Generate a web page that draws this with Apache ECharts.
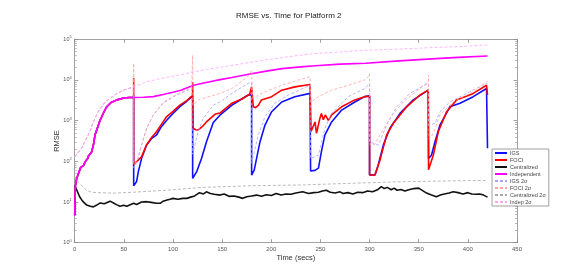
<!DOCTYPE html>
<html>
<head>
<meta charset="utf-8">
<script src="https://cdn.jsdelivr.net/npm/echarts@6/dist/echarts.min.js"></script>
<style>html,body{margin:0;padding:0;background:#fff;}#c{width:572px;height:272px;}</style>
</head>
<body>
<div id="c"></div>
<script>
// ---- data (time in secs, RMSE) ----
const xTicks = [0, 50, 100, 150, 200, 250, 300, 350, 400, 450];
const seriesNames = ['IGS', 'FOCI', 'Centralized', 'Independent', 'IGS 2\u03c3', 'FOCI 2\u03c3', 'Centralized 2\u03c3', 'Indep 2\u03c3'];

// first 60 s: IGS, FOCI and Independent coincide
const sharedEarly = [[0,4.7],[0.7,25],[2,38],[4,52],[6,70],[9,80],[11,100],[13,115],[14,135],[16,140],[17,165],[19,250],[20.7,450],[23,650],[25.8,1020],[29,1500],[32.6,2200],[37,2800],[43,3240],[50,3600],[55,3700],[60,3700]];
const indepLate = [[70,3750],[80,3900],[90,4400],[100,5000],[108,5600],[115,6500],[121,7400],[135,8800],[148,10200],[160,11500],[177,13800],[195,16500],[211,19000],[230,21000],[245,22400],[270,24500],[296,25700],[330,29500],[359,32500],[361,33500],[390,36000],[420,38900]];
const igsLate = [[60,4200],[60,25],[63,32],[64.7,55],[68,117],[73,250],[78,360],[83.4,450],[88,700],[93.6,1020],[100,1500],[107,2200],[114,3000],[120,3980],[120,38],[121,38],[124,55],[129,117],[134,300],[141,900],[148,1380],[160,2400],[170,3400],[176.6,4270],[180,4370],[180,46],[182.7,62],[185,117],[188.5,300],[193.6,780],[200.4,1660],[210.6,2880],[224,3890],[239.4,4680],[240,4680],[240,58],[244.5,60],[248,68],[251,174],[254.6,447],[261.4,930],[271.6,1820],[285,2880],[295,3890],[300,4070],[300,46],[305.5,46],[308.8,81],[314,250],[320.7,650],[331,1510],[344.5,3240],[359.7,5620],[360,5620],[360,117],[363,141],[366.5,300],[371.6,780],[381.7,2190],[392,2690],[405.5,3890],[419,6170],[420,6170],[420,209]];
const fociLate = [[60,11000],[60,85],[63,98],[68,129],[73,250],[78,380],[83.4,540],[88,800],[93.6,1260],[100,1700],[107,2400],[114,3100],[120,4170],[120,8900],[120.5,650],[123,600],[125.8,590],[130,720],[134,930],[143,1450],[148,1550],[160,2690],[170,3400],[178,4470],[180,4470],[180,6760],[181.7,2190],[184,2090],[187,2400],[190,3240],[200.4,3890],[210.6,5620],[224,6760],[239.4,7760],[240,8300],[240.5,540],[242,590],[244.5,930],[246,490],[249.5,1150],[251,1510],[253,1050],[255,1380],[258,1020],[261.4,1380],[271.6,2190],[285,3240],[295,3890],[300,3980],[300,46],[305.5,46],[310.6,107],[317.4,447],[324,850],[337.7,2190],[351.3,4270],[359.7,5620],[360,5620],[360,62],[364.8,141],[370,540],[378.4,1660],[388.6,3240],[405.5,4680],[419,7410],[420,7410],[420,4270]];
const centralized = [[0,25.1],[2,20],[5,13.5],[8,10.5],[12,8.5],[16,7.9],[19,7.6],[22,8.3],[26,9.5],[30,9.1],[36,10.5],[40,9.3],[43,8.5],[46,7.9],[50,8.3],[53,7.9],[57,8.7],[60,9.3],[63,8.7],[68,10],[73,10.2],[78,9.8],[83,9.3],[87,9.3],[90,10.5],[94,11.2],[97,11.7],[100,12.3],[105,11.7],[110,12.3],[114,12.3],[118,13.2],[122,14.1],[127,17],[131,15.8],[134,17.8],[138,16.2],[142,15.5],[148,14.8],[152,15.8],[157,13.8],[162,14.1],[167,13.2],[171,12.3],[175,13.5],[180,14.1],[185,14.8],[190,13.8],[195,15.1],[200,14.5],[205,16.2],[210,14.8],[215,15.8],[220,15.5],[225,16.6],[232,17.8],[238,16.2],[243,17],[248,17.4],[252,18.6],[256,19.5],[260,17.4],[265,16.6],[270,17.8],[273,16.2],[278,17],[283,15.8],[288,17.4],[293,17],[298,18.6],[303,17.8],[308,20],[312,24],[315,21.4],[318,22.9],[322,20],[325,21.9],[328,19.5],[332,20.4],[336,18.6],[340,20],[345,21.4],[350,21.9],[354,19.1],[358,16.6],[363,14.8],[368,13.5],[372,14.8],[376,15.8],[381,16.6],[385,17.8],[390,17],[395,15.8],[400,17],[404,15.8],[408,15.5],[412,15.8],[416,14.8],[420,13.2]];

// 2-sigma bounds; first 60 s IGS/FOCI/Indep coincide
const sharedEarly2s = [[0,130],[3,160],[7,210],[11,330],[15.6,540],[18,800],[20.7,1150],[24,1700],[27.5,2190],[31,2900],[36,3550],[42,4500],[49.5,5620],[60,6760]];
const indep2sLate = [[73.2,9100],[85,10500],[97,12000],[110,13800],[120.7,15800],[135,18200],[147.8,20400],[170,25000],[193.6,30900],[220,38000],[244.5,44700],[270,49000],[295,53700],[320,56000],[358,61700],[390,66000],[420,72400]];
const igs2sLate = [[60,70],[63,90],[68,250],[73.2,650],[80,1380],[90,2690],[103.8,4270],[119,6170],[120,6300],[120,150],[123,300],[125.7,540],[130.8,1150],[141,2400],[148,2900],[160,4700],[176.6,8300],[180,8700],[180,90],[181.7,98],[186.8,450],[193.6,1260],[203.8,2690],[217.3,4270],[239.4,7410],[240,7500],[240,117],[248,141],[254.6,650],[261.4,1510],[278.4,3890],[295,6170],[300,8000],[300,300],[308.8,250],[317.4,780],[327.6,2190],[341,4680],[359.7,8300],[360,8300],[360,780],[366.5,850],[371.6,1660],[381.7,2880],[398.8,4680],[419,8300],[420,8300]];
const foci2sLate = [[60,25700],[60,90],[63,95],[68,250],[73.2,650],[80,1380],[90,2800],[103.8,4470],[119,6500],[120,6800],[120,40700],[120.5,2400],[125.6,3240],[147.8,4680],[160,6170],[178,13200],[180,13800],[180,17400],[181,3550],[193.6,5130],[210.6,7410],[227.6,10000],[239.4,12000],[240,12000],[240,13200],[240.5,2880],[248,3890],[261.4,5620],[278.4,7410],[295,10000],[298.7,12000],[300,12000],[300,14500],[300.5,250],[305,260],[310.6,450],[320.7,1150],[334.3,2880],[359.7,9100],[360,9100],[360,13200],[360.5,350],[365,500],[371.6,1380],[385,2880],[405.5,5130],[419,9100],[420,9100]];
const centralized2s = [[0,42],[4,30],[8,24],[12,19.5],[17,17.4],[22,17],[40,16.6],[60,17.4],[100,20],[130,22.9],[180,25.1],[232,26.3],[280,28.8],[334,31.6],[380,33],[420,34]];

const igs = sharedEarly.concat(igsLate);
const foci = sharedEarly.concat(fociLate);
const independent = sharedEarly.concat(indepLate);
const igs2s = sharedEarly2s.concat(igs2sLate);
const foci2s = sharedEarly2s.concat(foci2sLate);
const indep2s = sharedEarly2s.concat(indep2sLate);

const seriesData = [igs, foci, centralized, independent, igs2s, foci2s, centralized2s, indep2s];
const colors = ['#1010ff', '#ff0000', '#111111', '#ff00ff', '#a3a3ff', '#ffa3a3', '#a8a8a8', '#ffa3ff'];
const widths = [1.6, 1.6, 1.6, 1.6, 0.8, 0.8, 0.8, 0.8];
const dashed = [false, false, false, false, true, true, true, true];

const FONT = 'Liberation Sans, Arial, sans-serif';
const AX = '#8a8a8a';
const LBL = '#555';

const chart = echarts.init(document.getElementById('c'), null, {renderer: 'canvas'});
const gridPos = {left: 74.7, right: 55, top: 39.3, bottom: 29.3};

const xBase = {
  type: 'value', min: 0, max: 450, interval: 50,
  splitLine: {show: false},
  axisLine: {show: true, onZero: false, lineStyle: {color: AX, width: 0.8}},
  axisTick: {show: true, inside: true, length: 3.5, lineStyle: {color: AX, width: 0.8}},
};
const yBase = {
  type: 'log', logBase: 10, min: 1, max: 100000,
  splitLine: {show: false},
  axisLine: {show: true, onZero: false, lineStyle: {color: AX, width: 0.8}},
  axisTick: {show: true, inside: true, length: 3.5, lineStyle: {color: AX, width: 0.8}},
  minorTick: {show: true, splitNumber: 9, length: 2, lineStyle: {color: AX, width: 0.6}},
};

chart.setOption({
  animation: false,
  backgroundColor: '#ffffff',
  title: {
    text: 'RMSE vs. Time for Platform 2',
    left: 231, top: 7,
    textStyle: {fontFamily: FONT, fontSize: 8, fontWeight: 'normal', color: '#222'}
  },
  grid: gridPos,
  legend: {
    orient: 'vertical', left: 492, top: 149,
    data: seriesNames,
    itemWidth: 12, itemHeight: 5, itemGap: 1,
    padding: [1, 3, 1, 2],
    borderColor: '#888', borderWidth: 0.8, backgroundColor: '#fff',
    itemStyle: {opacity: 0},
    textStyle: {fontFamily: FONT, fontSize: 5.5, color: '#444', padding: [0, 0, 0, -2]}
  },
  xAxis: [
    Object.assign({}, xBase, {
      position: 'bottom',
      name: 'Time (secs)', nameLocation: 'middle', nameGap: 11, nameMoveOverlap: false,
      nameTextStyle: {fontFamily: FONT, fontSize: 7.5, color: '#333'},
      axisLabel: {fontFamily: FONT, fontSize: 6, color: LBL, margin: 4,
        formatter: v => xTicks.indexOf(v) >= 0 ? String(v) : ''}
    }),
    Object.assign({}, xBase, {position: 'top', axisLabel: {show: false}})
  ],
  yAxis: [
    Object.assign({}, yBase, {
      position: 'left',
      name: 'RMSE', nameLocation: 'middle', nameGap: 14, nameRotate: 90, nameMoveOverlap: false,
      nameTextStyle: {fontFamily: FONT, fontSize: 7.5, color: '#333'},
      axisLabel: {
        margin: 3,
        formatter: v => '{b|10}{e|' + Math.round(Math.log10(v)) + '}',
        rich: {
          b: {fontFamily: FONT, fontSize: 5.5, color: LBL},
          e: {fontFamily: FONT, fontSize: 4, color: LBL, padding: [0, 0, 4, 0]}
        }
      }
    }),
    Object.assign({}, yBase, {position: 'right', axisLabel: {show: false}})
  ],
  series: seriesNames.map((name, i) => ({
    name: name,
    type: 'line',
    data: seriesData[i],
    xAxisIndex: 0, yAxisIndex: 0,
    showSymbol: false, symbol: 'none',
    smooth: false,
    color: colors[i],
    lineStyle: {color: colors[i], width: widths[i], type: dashed[i] ? [3, 2] : 'solid'},
    z: 2
  }))
});
</script>
</body>
</html>
